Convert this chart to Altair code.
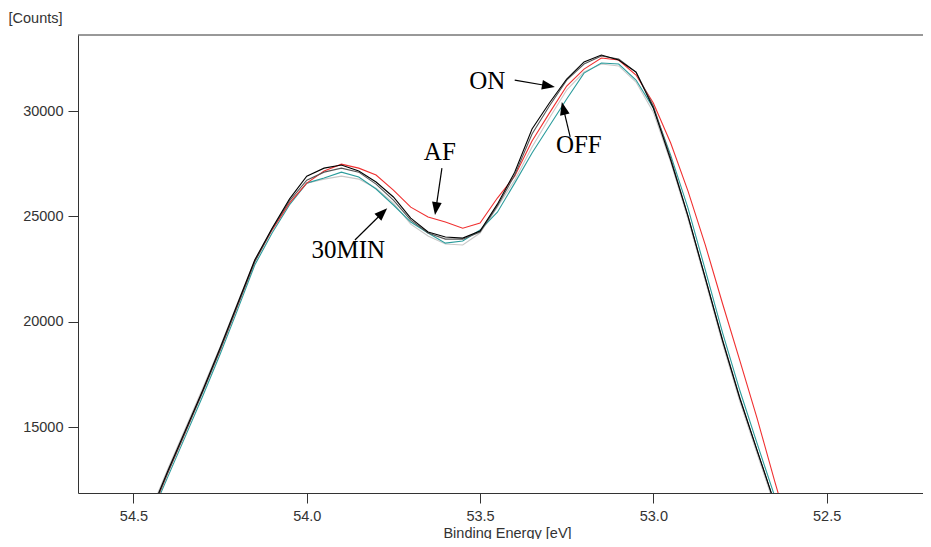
import math
import altair as alt
import pandas as pd

# ---------------- data ----------------
energy = [54.45, 54.40, 54.35, 54.30, 54.25, 54.20, 54.15, 54.10, 54.05, 54.00,
          53.95, 53.90, 53.85, 53.80, 53.75, 53.70, 53.65, 53.60, 53.55, 53.50,
          53.45, 53.40, 53.35, 53.30, 53.25, 53.20, 53.15, 53.10, 53.05, 53.00,
          52.95, 52.90, 52.85, 52.80, 52.75, 52.70, 52.65, 52.60]

on_black = [10960, 12950, 14850, 16750, 18750, 20840, 22930, 24440, 25820, 26910,
            27290, 27440, 27150, 26630, 25920, 24920, 24260, 24020, 23970, 24300,
            25580, 27100, 29150, 30380, 31520, 32330, 32660, 32420, 31850, 30140,
            27670, 25010, 22070, 19080, 16330, 13860, 11390, 8920]

af_red = [10870, 12860, 14760, 16710, 18650, 20740, 22880, 24350, 25630, 26580,
          27150, 27480, 27290, 26960, 26250, 25440, 24970, 24730, 24440, 24680,
          25870, 26910, 28580, 29900, 31190, 31990, 32520, 32420, 31710, 30380,
          28480, 26200, 23640, 20840, 18130, 15380, 12430, 9630]

min30_teal = [10770, 12670, 14570, 16470, 18460, 20550, 22690, 24210, 25540, 26580,
              26820, 27100, 26870, 26300, 25540, 24730, 24210, 23730, 23830, 24350,
              25200, 26580, 28010, 29290, 30570, 31800, 32280, 32230, 31470, 30140,
              27910, 25390, 22450, 19460, 16710, 14190, 11720, 9160]

off_lightgray = [11060, 13050, 14950, 16850, 18800, 20880, 22930, 24400, 25630, 26580,
                 26770, 26910, 26770, 26340, 25630, 24630, 24070, 23690, 23640, 24210,
                 25440, 26720, 28290, 29670, 31000, 31850, 32230, 32140, 31380, 29950,
                 27580, 24870, 21930, 18940, 16180, 13710, 11240, 8730]

other_darkgray = [10910, 12860, 14760, 16660, 18650, 20740, 22830, 24400, 25730, 26720,
                  27100, 27290, 27100, 26530, 25770, 24820, 24210, 23920, 23920, 24260,
                  25490, 26960, 28910, 30240, 31470, 32230, 32610, 32470, 31850, 30240,
                  27770, 25010, 22070, 19130, 16370, 13860, 11390, 8870]

series_names = ["OFF", "30MIN", "AF", "other", "ON"]
series_values = [off_lightgray, min30_teal, af_red, other_darkgray, on_black]
series_colors = ["#c8c8c8", "#2b9c9c", "#f03030", "#555555", "#000000"]

x_ticks = [54.5, 54.0, 53.5, 53.0, 52.5]
y_ticks = [15000, 20000, 25000, 30000]
x_domain = [52.222, 54.66]
y_domain = [11870, 33610]

# annotations: label, text position (E, counts), arrow tail (E, counts), arrow tip (E, counts)
ann_labels = ["ON", "OFF", "AF", "30MIN"]
ann_text_E = [53.479, 53.215, 53.616, 53.880]
ann_text_C = [31045, 28006, 27673, 23020]
arr_tail_E = [53.400, 53.240, 53.610, 53.861]
arr_tail_C = [31470, 28770, 27290, 23880]
arr_tip_E = [53.284, 53.264, 53.630, 53.768]
arr_tip_C = [31140, 30430, 25060, 25390]

# ---------------- layout ----------------
W, H = 845, 458
SANS = "Liberation Sans, Arial, sans-serif"
SERIF = "Liberation Serif, Times New Roman, serif"
FRAME = "#333333"

xscale = alt.Scale(domain=x_domain, reverse=True, nice=False, zero=False)
yscale = alt.Scale(domain=y_domain, nice=False, zero=False)

xaxis = alt.Axis(values=x_ticks, format=".1f", tickSize=10, labelPadding=6,
                 title="Binding Energy [eV]", titleX=429, titleY=44,
                 titleBaseline="alphabetic", titleAlign="center")
yaxis = alt.Axis(values=y_ticks, format="d", tickSize=10, labelPadding=5,
                 title="[Counts]", titleAngle=0, titleX=-70, titleY=-13,
                 titleAlign="left", titleBaseline="alphabetic")

X = alt.X("E:Q", scale=xscale, axis=xaxis)
Y = alt.Y("C:Q", scale=yscale, axis=yaxis)

layers = []
for name, vals, col in zip(series_names, series_values, series_colors):
    df = pd.DataFrame({"E": energy, "C": vals, "series": name})
    layers.append(
        alt.Chart(df).mark_line(clip=True, strokeWidth=1.1, color=col).encode(
            x=X, y=Y, order=alt.Order("E:Q", sort="descending"))
    )

# arrows
kx = W / (x_domain[1] - x_domain[0])
ky = H / (y_domain[1] - y_domain[0])
r = 6.5  # half length of arrow head in px
rows_rule, rows_head = [], []
for te, tc, pe, pc in zip(arr_tail_E, arr_tail_C, arr_tip_E, arr_tip_C):
    dxp = -(pe - te) * kx
    dyp = -(pc - tc) * ky
    L = math.hypot(dxp, dyp)
    ux, uy = dxp / L, dyp / L
    ang = math.degrees(math.atan2(ux, -uy)) % 360
    ce = pe + ux * r / kx
    cc = pc + uy * r / ky
    be = pe + ux * 1.6 * r / kx
    bc = pc + uy * 1.6 * r / ky
    rows_rule.append({"E": te, "C": tc, "E2": be, "C2": bc})
    rows_head.append({"E": ce, "C": cc, "angle": ang})

rules = alt.Chart(pd.DataFrame(rows_rule)).mark_rule(color="black", strokeWidth=1.2).encode(
    x=X, y=Y, x2="E2:Q", y2="C2:Q")
heads = alt.Chart(pd.DataFrame(rows_head)).mark_point(
    shape="M0,-1L-0.75,1L0.75,1Z", filled=True, size=(2 * r) ** 2,
    color="black", opacity=1, strokeWidth=0).encode(
    x=X, y=Y, angle=alt.Angle("angle:Q", scale=None))

texts = alt.Chart(pd.DataFrame({"E": ann_text_E, "C": ann_text_C, "t": ann_labels})).mark_text(
    font=SERIF, fontSize=25, align="center", baseline="alphabetic", color="black").encode(
    x=X, y=Y, text="t:N")

top_border = alt.Chart(pd.DataFrame({"a": [0]})).mark_rule(color=FRAME, strokeWidth=1).encode(
    x=alt.value(0), x2=alt.value(W), y=alt.value(0))

chart = alt.layer(*layers, rules, heads, texts, top_border).properties(
    width=W, height=H,
    autosize=alt.AutoSizeParams(type="none"),
    padding={"left": 70, "top": 27, "right": 0, "bottom": 46},
).configure_view(strokeWidth=0).configure_axis(
    grid=False, domainColor=FRAME, domainWidth=1, tickColor=FRAME, tickWidth=1,
    labelColor=FRAME, labelFont=SANS, labelFontSize=14.5,
    titleColor=FRAME, titleFont=SANS, titleFontSize=14.5, titleFontWeight="normal",
)

chart.save("out.html", embed_options={"renderer": "svg", "actions": False})
